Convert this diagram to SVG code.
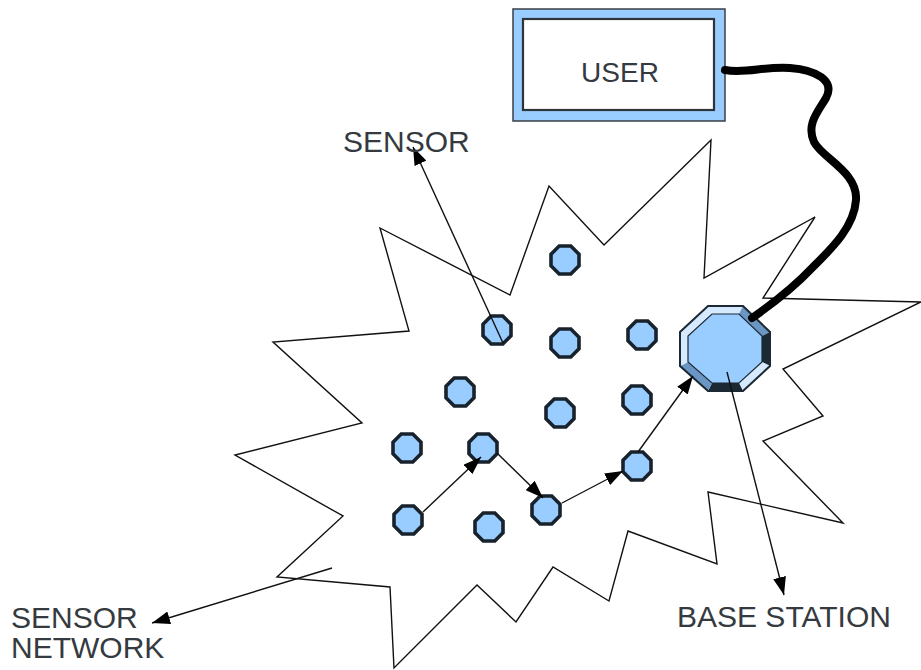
<svg xmlns="http://www.w3.org/2000/svg" width="921" height="670" viewBox="0 0 921 670">
  <style>
    .label { font-family: "Liberation Sans", Arial, sans-serif; font-size: 30px; fill: #353a40; }
    .net { fill: #ffffff; stroke: #111111; stroke-width: 1.4; stroke-linejoin: miter; }
    .sensor { fill: #99ccff; stroke: #18222c; stroke-width: 3.6; }
    .link { stroke: #111111; stroke-width: 1.4; fill: none; marker-end: url(#head); }
    .cable { stroke: #000000; stroke-width: 8; fill: none; stroke-linecap: round; stroke-linejoin: round; }
  </style>
  <defs>
    <marker id="head" markerUnits="userSpaceOnUse" markerWidth="18" markerHeight="13" refX="18" refY="6.5" orient="auto">
      <path d="M0,0 L18,6.5 L0,13 z" fill="#000000"/>
    </marker>
    <!-- small sensor octagon, centred on the origin -->
    <polygon id="oct" points="-5.8,-14 5.8,-14 14,-5.8 14,5.8 5.8,14 -5.8,14 -14,5.8 -14,-5.8"/>
  </defs>

  <rect width="921" height="670" fill="#ffffff"/>

  <!-- sensor network outline (jagged burst) -->
  <g id="sensor-network">
    <polygon class="net" points="380,228 510,295 549,186 604,245 711,140 704,278 815,217 763,298 921,302 783,369 823,416 763,441 843,523 708,492 717,564 628,531 609,601 553,567 516,622 477,585 394,668 390,587 277,577 343,516 235,455 362,423 273,342 409,331"/>
  </g>

  <!-- sensor nodes -->
  <g id="sensors">
    <use id="s1" href="#oct" class="sensor" x="565" y="260"/>
    <use id="s2" href="#oct" class="sensor" x="497" y="330"/>
    <use id="s3" href="#oct" class="sensor" x="565" y="343"/>
    <use id="s4" href="#oct" class="sensor" x="642" y="335"/>
    <use id="s5" href="#oct" class="sensor" x="460" y="392"/>
    <use id="s6" href="#oct" class="sensor" x="560" y="413"/>
    <use id="s7" href="#oct" class="sensor" x="637" y="400"/>
    <use id="s8" href="#oct" class="sensor" x="407" y="448"/>
    <use id="s9" href="#oct" class="sensor" x="483" y="448"/>
    <use id="s10" href="#oct" class="sensor" x="637" y="466"/>
    <use id="s11" href="#oct" class="sensor" x="408" y="520"/>
    <use id="s12" href="#oct" class="sensor" x="489" y="527"/>
    <use id="s13" href="#oct" class="sensor" x="546" y="510"/>
  </g>

  <!-- base station: bevelled octagon -->
  <g id="base-station">
    <polygon points="708,306 743,306 739,314 712,314" fill="#d5eaff"/>
    <polygon points="743,306 770,332 762,336 739,314" fill="#6a96c4"/>
    <polygon points="770,332 770,366 762,362 762,336" fill="#1b2935"/>
    <polygon points="770,366 743,391 739,383 762,362" fill="#d5eaff"/>
    <polygon points="743,391 708,391 712,383 739,383" fill="#1b2935"/>
    <polygon points="708,391 680,366 688,362 712,383" fill="#6a96c4"/>
    <polygon points="680,366 680,332 688,336 688,362" fill="#d5eaff"/>
    <polygon points="680,332 708,306 712,314 688,336" fill="#d5eaff"/>
    <polygon points="708,306 743,306 770,332 770,366 743,391 708,391 680,366 680,332" fill="none" stroke="#1c2833" stroke-width="2"/>
    <polygon points="712,314 739,314 762,336 762,362 739,383 712,383 688,362 688,336" fill="#99ccff" stroke="#1c2833" stroke-width="1.2"/>
  </g>

  <!-- user terminal -->
  <g id="user">
    <rect x="513" y="9" width="212" height="112" fill="#99ccff" stroke="#3a3f44" stroke-width="1.5"/>
    <rect x="523" y="19" width="191" height="91" fill="#ffffff" stroke="#2f3438" stroke-width="2.2"/>
    <text class="label" x="620" y="82" text-anchor="middle" style="font-size:28px">USER</text>
  </g>

  <!-- connectors -->
  <g id="connectors">
    <path class="cable" d="M725,70 C745,74 765,66 790,68 C815,70 836,80 826,98 C818,112 806,124 814,142 C822,158 858,172 856,200 C854,228 830,250 812,268 C795,286 775,302 752,318"/>
    <line class="link" x1="503" y1="343" x2="413" y2="147"/>
    <line class="link" x1="332" y1="568" x2="152" y2="623"/>
    <line class="link" x1="727" y1="372" x2="784" y2="595"/>
    <line class="link" x1="423" y1="512" x2="481" y2="457"/>
    <line class="link" x1="497" y1="453" x2="543" y2="498"/>
    <line class="link" x1="562" y1="503" x2="623" y2="471"/>
    <line class="link" x1="638" y1="452" x2="693" y2="376"/>
  </g>

  <!-- labels -->
  <g id="labels">
    <text class="label" x="343" y="152">SENSOR</text>
    <text class="label" x="677" y="627">BASE STATION</text>
    <text class="label" x="11" y="628">SENSOR</text>
    <text class="label" x="11" y="658">NETWORK</text>
  </g>
</svg>
